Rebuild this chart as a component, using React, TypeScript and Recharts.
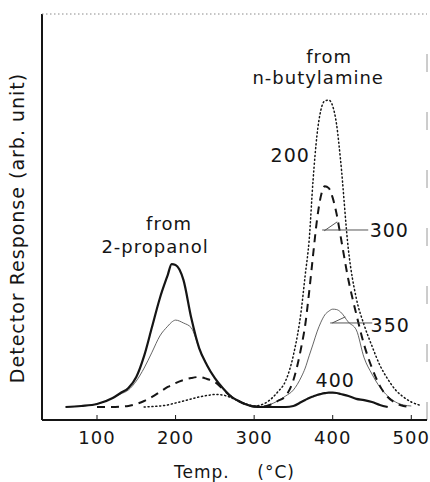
import React from "react";
import { LineChart, Line, XAxis, YAxis, ReferenceLine, ReferenceDot } from "recharts";

// temperature grid (°C)
const temps = [60, 80, 100, 120, 130, 140, 150, 160, 170, 180, 190, 195, 200, 210, 220, 230, 240, 250, 260, 270, 280, 290, 300, 310, 320, 330, 340, 350, 360, 365, 370, 375, 380, 385, 390, 395, 400, 405, 410, 420, 430, 440, 450, 460, 470, 480, 490, 500, 510];

// detector response (arb. unit)
// bold solid: 2-propanol main peak + "400" trace
const solid = [3.2, 3.45, 3.94, 5.42, 6.65, 7.88, 10.6, 15.8, 22.9, 30.0, 35.7, 38.4, 38.2, 34.5, 25.1, 17.7, 13.5, 10.3, 7.9, 5.9, 4.7, 3.8, 3.3, 3.2, 3.2, 3.2, 3.2, 3.45, 4.43, 4.93, 5.42, 5.8, 6.16, 6.4, 6.6, 6.75, 6.75, 6.65, 6.4, 5.9, 5.2, 4.9, 4.43, 3.7, 3.2, null, null, null, null];
// dashed: "300"
const dashed = [null, null, 3.2, 3.2, 3.3, 3.45, 3.94, 4.68, 5.67, 6.9, 8.13, 8.6, 9.1, 9.85, 10.34, 10.6, 10.1, 9.36, 7.64, 5.9, 4.7, 3.8, 3.3, 3.3, 3.7, 4.68, 5.9, 9.85, 17.98, 23.4, 31.5, 40.6, 49.3, 55.2, 57.6, 57.1, 54.7, 50.7, 45.3, 34.5, 26.1, 18.5, 12.8, 8.4, 5.67, 4.19, 3.45, 3.2, null];
// thin: "350"
const thin = [3.2, 3.45, 3.94, 5.42, 6.4, 7.4, 9.6, 12.8, 16.7, 20.7, 23.1, 24.1, 24.6, 23.9, 22.7, 17.7, 13.5, 10.3, 7.9, 5.9, 4.7, 3.8, 3.3, 3.3, 3.8, 4.68, 5.9, 7.4, 10.6, 12.8, 15.8, 18.7, 21.7, 24.1, 25.9, 26.8, 27.3, 27.2, 26.6, 24.1, 22.2, 15.3, 11.3, 8.1, 5.9, 4.43, 3.7, 3.45, null];
// dotted: "200"
const dotted = [null, null, null, null, null, null, null, 3.2, 3.3, 3.45, 3.7, 3.94, 4.19, 4.68, 5.17, 5.67, 6.03, 6.28, 6.16, 5.55, 4.68, 3.94, 3.45, 3.8, 4.93, 6.9, 9.6, 16.0, 27.1, 35.7, 44.3, 59.1, 70.2, 76.4, 78.6, 78.8, 77.3, 72.7, 64.0, 41.9, 30.0, 23.4, 18.2, 13.5, 10.1, 7.4, 5.67, 4.43, 3.7];

const xTicks = [100, 200, 300, 400, 500];

const data = temps.map((t, i) => ({ t, solid: solid[i], dashed: dashed[i], thin: thin[i], dotted: dotted[i] }));

const FONT = "'DejaVu Sans', sans-serif";
const INK = "#151515";

const textLabel = (value: string, size = 19) => ({
  value,
  position: "center" as const,
  fontSize: size,
  fill: INK,
  fontFamily: FONT,
});

export default function App() {
  return (
    <div style={{ position: "absolute", left: 0, top: 0, background: "#fff", fontFamily: FONT, letterSpacing: 1 }}>
      <LineChart width={430} height={482} data={data} margin={{ top: 14, right: 3, left: 42, bottom: 32 }}>
        <XAxis
          dataKey="t"
          type="number"
          domain={[30, 520]}
          ticks={xTicks}
          allowDataOverflow
          height={30}
          axisLine={{ stroke: INK, strokeWidth: 2 }}
          tickLine={{ stroke: INK, strokeWidth: 1 }}
          tickSize={-5}
          tickMargin={16}
          tick={{ fontSize: 18, fill: INK, fontFamily: FONT }}
          label={{ value: "Temp.\u2003\u2002(°C)", position: "bottom", offset: 16, fontSize: 17, fill: INK, fontFamily: FONT }}
        />
        <YAxis hide domain={[0, 100]} type="number" allowDataOverflow />

        <ReferenceLine x={30} stroke={INK} strokeWidth={2} />
        <ReferenceLine y={100} stroke="#8a8a8a" strokeWidth={1} strokeDasharray="1.5 2.5" />
        <ReferenceLine x={520} stroke="#9a9a9a" strokeWidth={1} strokeDasharray="18 40" />

        <Line dataKey="thin" type="monotone" stroke="#555" strokeWidth={0.9} dot={false} isAnimationActive={false} />
        <Line dataKey="dotted" type="monotone" stroke={INK} strokeWidth={1.5} strokeDasharray="1.1 2.8" strokeLinecap="round" dot={false} isAnimationActive={false} />
        <Line dataKey="dashed" type="monotone" stroke={INK} strokeWidth={2} strokeDasharray="8 6" dot={false} isAnimationActive={false} />
        <Line dataKey="solid" type="monotone" stroke={INK} strokeWidth={2.2} dot={false} isAnimationActive={false} />

        {/* leader lines */}
        <ReferenceLine segment={[{ x: 386.6, y: 46.8 }, { x: 445.2, y: 46.8 }]} stroke="#444" strokeWidth={0.9} />
        <ReferenceLine segment={[{ x: 389.2, y: 46.6 }, { x: 405.7, y: 48.8 }]} stroke="#444" strokeWidth={0.9} />
        <ReferenceLine segment={[{ x: 396.8, y: 23.9 }, { x: 450.3, y: 23.9 }]} stroke="#444" strokeWidth={0.9} />
        <ReferenceLine segment={[{ x: 399.4, y: 23.9 }, { x: 416, y: 25.4 }]} stroke="#444" strokeWidth={0.9} />

        <ReferenceDot x={191.7} y={48.3} r={0} fill="none" stroke="none" label={textLabel("from", 18)} />
        <ReferenceDot x={173.9} y={42.7} r={0} fill="none" stroke="none" label={textLabel("2-propanol", 18)} />
        <ReferenceDot x={395.5} y={89.4} r={0} fill="none" stroke="none" label={textLabel("from", 18)} />
        <ReferenceDot x={381.5} y={84.4} r={0} fill="none" stroke="none" label={textLabel("n-butylamine", 18)} />
        <ReferenceDot x={345.9} y={65.3} r={0} fill="none" stroke="none" label={textLabel("200")} />
        <ReferenceDot x={472} y={46.8} r={0} fill="none" stroke="none" label={textLabel("300")} />
        <ReferenceDot x={473.2} y={23.4} r={0} fill="none" stroke="none" label={textLabel("350")} />
        <ReferenceDot x={403.2} y={9.85} r={0} fill="none" stroke="none" label={textLabel("400")} />
        <ReferenceDot
          x={-1.9}
          y={47.3}
          r={0}
          fill="none"
          stroke="none"
          ifOverflow="visible"
          label={{ ...textLabel("Detector Response (arb. unit)"), angle: -90 }}
        />
      </LineChart>
    </div>
  );
}
